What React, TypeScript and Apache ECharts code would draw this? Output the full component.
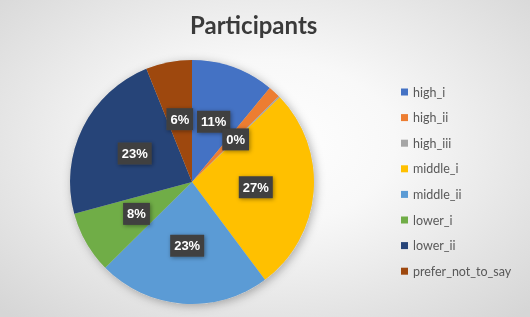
import React, { useEffect, useRef } from "react";
import * as echarts from "echarts";

const categories = [
  "high_i",
  "high_ii",
  "high_iii",
  "middle_i",
  "middle_ii",
  "lower_i",
  "lower_ii",
  "prefer_not_to_say",
];
const shares = [11.0, 1.6, 0.2, 27.0, 22.8, 8.2, 23.1, 6.1];
const colors = [
  "#4472C4",
  "#ED7D31",
  "#A5A5A5",
  "#FFC000",
  "#5B9BD5",
  "#70AD47",
  "#264478",
  "#9E480E",
];
// high_ii's label is hidden under the others; high_iii's tiny slice label is drawn via polar helper
const hiddenLabels = ["high_ii", "high_iii"];
const smallLabelItems = ["high_iii"];
const titleText = "Participants";

export default function App() {
  const ref = useRef<HTMLDivElement>(null);
  useEffect(() => {
    if (!ref.current) return;
    const chart = echarts.init(ref.current, undefined, { renderer: "svg" });
    const center = [192, 182];
    const radius = 122;
    const total = shares.reduce((a, b) => a + b, 0);
    const labelStyle = {
      color: "#ffffff",
      fontFamily: "Liberation Sans",
      fontWeight: "bold",
      fontSize: 13,
      lineHeight: 14,
      backgroundColor: "#404040",
      padding: [4, 4, 4, 4],
      shadowBlur: 4,
      shadowColor: "rgba(0,0,0,0.4)",
      shadowOffsetX: 1,
      shadowOffsetY: 1,
    };
    const smallLabelData = smallLabelItems.map((name) => {
      const idx = categories.indexOf(name);
      const before = shares.slice(0, idx).reduce((a, b) => a + b, 0);
      const mid = before + shares[idx] / 2;
      return {
        name,
        value: [0.5, mid],
        pct: Math.round((shares[idx] / total) * 100),
      };
    });
    chart.setOption({
      animation: false,
      title: {
        text: titleText,
        left: 185,
        top: 7,
        textStyle: {
          fontFamily: "Lato",
          fontWeight: "bold",
          fontSize: 24,
          color: "#3a3a3a",
        },
      },
      legend: {
        orient: "vertical",
        left: 396,
        top: 80,
        itemWidth: 7,
        itemHeight: 7,
        itemGap: 11.6,
        icon: "rect",
        data: categories,
        textStyle: {
          fontFamily: "Lato",
          fontSize: 12.5,
          lineHeight: 14,
          color: "#595959",
        },
      },
      polar: { center, radius: [0, radius] },
      angleAxis: {
        type: "value",
        min: 0,
        max: total,
        startAngle: 90,
        clockwise: true,
        show: false,
      },
      radiusAxis: { type: "value", min: 0, max: 1, show: false },
      series: [
        {
          type: "pie",
          silent: true,
          center,
          radius,
          label: { show: false },
          labelLine: { show: false },
          itemStyle: {
            color: "#cccccc",
            shadowBlur: 10,
            shadowColor: "rgba(0,0,0,0.3)",
            shadowOffsetX: 2,
            shadowOffsetY: 2,
          },
          data: [{ value: 1, name: "__shadow" }],
          z: 1,
        },
        {
          type: "pie",
          center,
          radius,
          startAngle: 90,
          clockwise: true,
          avoidLabelOverlap: false,
          minShowLabelAngle: 0,
          z: 2,
          label: {
            show: true,
            position: "inside",
            formatter: (p: any) => `${Math.round(p.percent)}%`,
            ...labelStyle,
          },
          labelLine: { show: false },
          emphasis: { disabled: true },
          data: categories.map((name, i) => ({
            name,
            value: shares[i],
            itemStyle: { color: colors[i] },
            label: hiddenLabels.includes(name) ? { show: false } : { show: true },
          })),
        },
        {
          type: "scatter",
          coordinateSystem: "polar",
          silent: true,
          z: 3,
          symbolSize: 1,
          itemStyle: { color: "rgba(0,0,0,0)", opacity: 1 },
          label: {
            show: true,
            position: "inside",
            opacity: 1,
            formatter: (p: any) => `${p.data.pct}%`,
            ...labelStyle,
          },
          emphasis: { disabled: true },
          data: smallLabelData,
        },
      ],
    });
    return () => chart.dispose();
  }, []);
  return (
    <div
      ref={ref}
      style={{
        position: "fixed",
        left: 0,
        top: 0,
        width: 530,
        height: 317,
        background:
          "radial-gradient(ellipse 70% 75% at 50% 45%, #ffffff 0%, #f8f8f8 35%, #d6d6d6 100%)",
      }}
    />
  );
}
